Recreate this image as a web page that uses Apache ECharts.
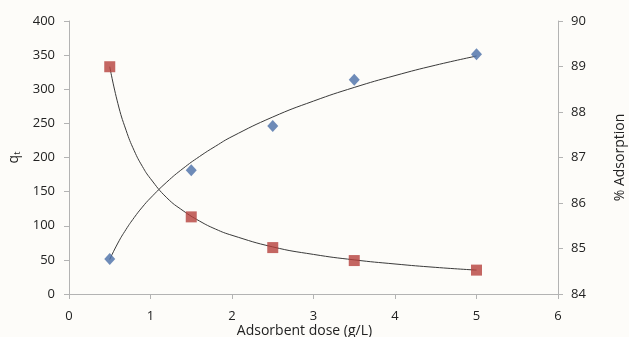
<!DOCTYPE html>
<html>
<head>
<meta charset="utf-8">
<script src="https://cdn.jsdelivr.net/npm/echarts@6/dist/echarts.min.js"></script>
<style>
  html, body { margin: 0; padding: 0; background: #fdfcf9; }
  #chart { width: 629px; height: 337px; }
</style>
</head>
<body>
<div id="chart"></div>
<script>
// measured points
var dose = [0.5, 1.5, 2.5, 3.5, 5];
var qt = [333, 113, 68, 49, 35];
var adsorption = [84.77, 86.72, 87.69, 88.71, 89.27];

// trend lines
var trendX = [0.5, 0.6, 0.7, 0.8, 0.9, 1.0, 1.2, 1.4, 1.6, 1.8, 2.0, 2.5, 3.0, 3.5, 4.0, 4.5, 5.0];
var qtTrend = [333, 279, 240, 210, 187, 169, 141, 122, 107, 95, 86, 69, 58, 50, 44, 39, 35];
var adsTrend = [84.76, 85.12, 85.42, 85.68, 85.91, 86.11, 86.46, 86.76, 87.02, 87.25, 87.46, 87.89, 88.24, 88.54, 88.80, 89.03, 89.23];

var xTicks = [0, 1, 2, 3, 4, 5, 6];

function pairs(xs, ys){
	var out = [];
	for(var i=0;i<xs.length;i++){
		out.push([xs[i], ys[i]]);
	}
	return out;
}

var font = '"Open Sans", "Liberation Sans", sans-serif';
var axisGray = '#b3b3b3';

var chart = echarts.init(document.getElementById('chart'));
var option = {
	backgroundColor: '#fdfcf9',
	animation: false,
	grid: { left: 69, right: 71, top: 21, bottom: 43, outerBoundsMode: 'none', containLabel: false },
	xAxis: {
		type: 'value',
		min: 0, max: 6, interval: 1,
		name: 'Adsorbent dose (g/L)',
		nameLocation: 'middle',
		nameGap: 30,
		nameMoveOverlap: false,
		nameTextStyle: { fontFamily: font, fontSize: 14, color: '#222', padding: [0, 18, 0, 0] },
		axisLine: { show: true, lineStyle: { color: axisGray } },
		axisTick: { show: true, length: 5, lineStyle: { color: axisGray } },
		splitLine: { show: false },
		axisLabel: {
			margin: 16,
			fontFamily: font, fontSize: 13, color: '#222',
			formatter: function(v){ return xTicks.indexOf(v) >= 0 ? String(v) : ''; }
		}
	},
	yAxis: [{
		type: 'value',
		min: 0, max: 400, interval: 50,
		name: '{q|q}{t|t}',
		nameLocation: 'middle',
		nameRotate: 90,
		nameGap: 42,
		nameTextStyle: {
			rich: {
				q: { fontFamily: font, fontSize: 14, color: '#222' },
				t: { fontFamily: font, fontSize: 9, color: '#222', verticalAlign: 'bottom', padding: [6, 0, 0, 0] }
			}
		},
		axisLine: { show: true, lineStyle: { color: axisGray } },
		axisTick: { show: true, length: 5, lineStyle: { color: axisGray } },
		splitLine: { show: false },
		axisLabel: { margin: 14, fontFamily: font, fontSize: 13, color: '#222' }
	}, {
		type: 'value',
		position: 'right',
		min: 84, max: 90, interval: 1,
		name: '% Adsorption',
		nameLocation: 'middle',
		nameRotate: 90,
		nameGap: 55,
		nameTextStyle: { fontFamily: font, fontSize: 14, color: '#222' },
		axisLine: { show: true, lineStyle: { color: axisGray } },
		axisTick: { show: true, length: 5, lineStyle: { color: axisGray } },
		splitLine: { show: false },
		axisLabel: { margin: 13, fontFamily: font, fontSize: 13, color: '#222' }
	}],
	series: [{
		name: 'qt trend',
		type: 'line',
		yAxisIndex: 0,
		smooth: true,
		showSymbol: false,
		silent: true,
		data: pairs(trendX, qtTrend),
		lineStyle: { color: '#3a3a3a', width: 1 },
		z: 1
	}, {
		name: 'adsorption trend',
		type: 'line',
		yAxisIndex: 1,
		smooth: true,
		showSymbol: false,
		silent: true,
		data: pairs(trendX, adsTrend),
		lineStyle: { color: '#3a3a3a', width: 1 },
		z: 1
	}, {
		name: 'qt',
		type: 'scatter',
		yAxisIndex: 0,
		symbol: 'rect',
		symbolSize: 11,
		data: pairs(dose, qt),
		itemStyle: { color: '#b5403c' },
		z: 3
	}, {
		name: '% Adsorption',
		type: 'scatter',
		yAxisIndex: 1,
		symbol: 'diamond',
		symbolSize: [11, 12],
		data: pairs(dose, adsorption),
		itemStyle: { color: '#4a6ea8' },
		z: 3
	}]
};
chart.setOption(option);
</script>
</body>
</html>
